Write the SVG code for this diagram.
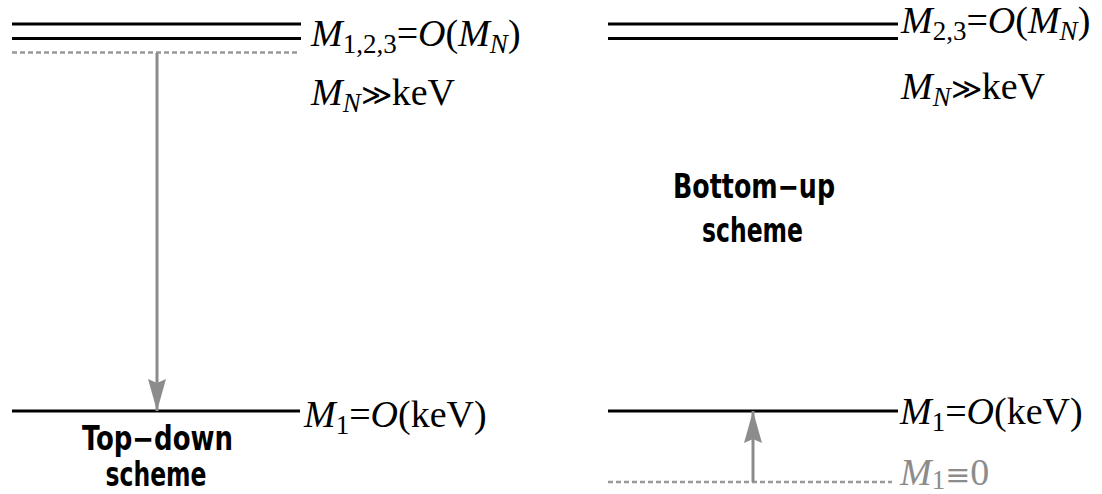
<svg xmlns="http://www.w3.org/2000/svg" width="1102" height="494" viewBox="0 0 1102 494">
<defs>
<marker id="ah" markerUnits="userSpaceOnUse" markerWidth="34" markerHeight="20" viewBox="0 -10 34 20" refX="32" refY="0" orient="auto">
<path d="M0,-9 L32,0 L0,9 L4,0 Z" fill="#8c8c8c"/>
</marker>
</defs>
<style>
.lvl{stroke:#000;stroke-width:3;fill:none}
.dot{stroke:#999;stroke-width:2.5;stroke-dasharray:5 3;fill:none}
.arr{stroke:#8c8c8c;stroke-width:3;fill:none}
.m{font-family:"Liberation Serif","Times New Roman",serif;font-size:38px;fill:#000}
.g{fill:#8c8c8c}
.i{font-style:italic}
.s{font-size:27px}
.y{font-family:"DejaVu Serif",serif;font-size:30px}
.h{font-family:"DejaVu Sans Condensed","DejaVu Sans",sans-serif;font-weight:bold;font-size:33px;fill:#000;text-anchor:middle}
</style>
<rect width="1102" height="494" fill="#fff"/>
<g id="topdown-heavy">
<line class="lvl" x1="12" y1="24" x2="301" y2="24"/>
<line class="lvl" x1="12" y1="38.5" x2="301" y2="38.5"/>
<line class="dot" x1="12" y1="52.5" x2="298" y2="52.5"/>
<text class="m" x="311" y="46"><tspan class="i">M</tspan><tspan class="s" dy="7">1,2,3</tspan><tspan dy="-7">=</tspan><tspan class="i">O</tspan>(<tspan class="i">M</tspan><tspan class="i s" dy="7">N</tspan><tspan dy="-7">)</tspan></text>
<text class="m" x="311" y="105"><tspan class="i">M</tspan><tspan class="i s" dy="7">N</tspan><tspan class="y" dy="-7">≫</tspan>keV</text>
</g>
<g id="topdown-light">
<line class="lvl" x1="12" y1="411" x2="300" y2="411"/>
<text class="m" x="304" y="427"><tspan class="i">M</tspan><tspan class="s" dy="7">1</tspan><tspan dy="-7">=</tspan><tspan class="i">O</tspan>(keV)</text>
</g>
<g id="topdown-label">
<text class="h" x="157.5" y="450" textLength="151" lengthAdjust="spacingAndGlyphs">Top−down</text>
<text class="h" x="156" y="486" textLength="101" lengthAdjust="spacingAndGlyphs">scheme</text>
</g>
<g id="bottomup-heavy">
<line class="lvl" x1="608" y1="24" x2="898" y2="24"/>
<line class="lvl" x1="608" y1="38.5" x2="898" y2="38.5"/>
<text class="m" x="901" y="33"><tspan class="i">M</tspan><tspan class="s" dy="7">2,3</tspan><tspan dy="-7">=</tspan><tspan class="i">O</tspan>(<tspan class="i">M</tspan><tspan class="i s" dy="7">N</tspan><tspan dy="-7">)</tspan></text>
<text class="m" x="901" y="99"><tspan class="i">M</tspan><tspan class="i s" dy="7">N</tspan><tspan class="y" dy="-7">≫</tspan>keV</text>
</g>
<g id="bottomup-label">
<text class="h" x="754" y="198" textLength="162" lengthAdjust="spacingAndGlyphs">Bottom−up</text>
<text class="h" x="752.5" y="242" textLength="101" lengthAdjust="spacingAndGlyphs">scheme</text>
</g>
<g id="bottomup-light">
<line class="lvl" x1="608" y1="411" x2="898" y2="411"/>
<text class="m" x="900" y="424"><tspan class="i">M</tspan><tspan class="s" dy="7">1</tspan><tspan dy="-7">=</tspan><tspan class="i">O</tspan>(keV)</text>
</g>
<g id="bottomup-zero">
<line class="dot" x1="608" y1="482" x2="892" y2="482"/>
<text class="m g" x="900" y="485"><tspan class="i">M</tspan><tspan class="s" dy="4">1</tspan><tspan class="y" dy="-4">≡</tspan>0</text>
</g>
<g id="connectors">
<line class="arr" x1="157" y1="53" x2="157" y2="411" marker-end="url(#ah)"/>
<line class="arr" x1="753" y1="482" x2="753" y2="411" marker-end="url(#ah)"/>
</g>
</svg>
